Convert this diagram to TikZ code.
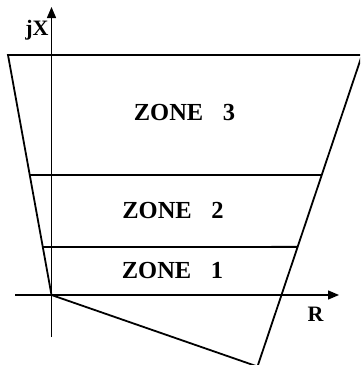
\documentclass[tikz,border=0pt]{standalone}
\usepackage{fontspec}
\setmainfont{Liberation Serif}[BoldFont={Liberation Serif Bold}]
\newfontfamily\labfont{Liberation Serif Bold}
\usetikzlibrary{arrows.meta,calc}
\begin{document}
\begin{tikzpicture}[x=1pt,y=-1pt,
  zone/.style={font=\labfont\fontsize{24.5}{28}\selectfont, inner sep=0pt},
  axlabel/.style={font=\labfont\fontsize{22}{26}\selectfont, inner sep=0pt, anchor=base},
  ax/.style={line width=1.4pt, -{Triangle[length=11pt,width=9pt]}},
  edge/.style={line width=1.8pt},
  zline/.style={line width=1.8pt}]
\useasboundingbox (0,0) rectangle (360,365);
\clip (0,0) rectangle (360,365);
% axes
\coordinate (O) at (51.5,295);
\coordinate (xl) at (15,295);
\coordinate (xr) at (339,295);
\coordinate (yb) at (51.5,337);
\coordinate (yt) at (51.5,7);
\draw[ax] (xl) -- (xr);
\draw[ax] (yb) -- (yt);
% quadrilateral
\coordinate (TL) at (8,55);
\coordinate (TR) at (362,55);
\coordinate (B) at (257.5,366.5);
\draw[edge,line join=miter] (O) -- (TL) -- (TR) -- (B) -- cycle;
% zone boundaries
\coordinate (L23) at ($(TL)!0.5!(O)$);
\coordinate (R23) at ($(TR)!0.385!(B)$);
\coordinate (L12) at ($(TL)!0.8!(O)$);
\coordinate (R12) at ($(TR)!0.616!(B)$);
\draw[zline] (L23) -- (R23);
\draw[zline] (L12) -- (R12);
% labels
\node[zone] (z3) at (184.5,113) {ZONE\hspace{0.8em}3};
\node[zone] (z2) at (173,211) {ZONE\hspace{0.8em}2};
\node[zone] (z1) at (172.5,270.5) {ZONE\hspace{0.8em}1};
\node[axlabel] (jx) at (37,35) {jX};
\node[axlabel] (r) at (315.5,321) {R};
\end{tikzpicture}
\end{document}
